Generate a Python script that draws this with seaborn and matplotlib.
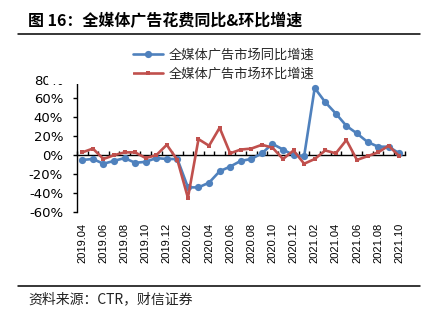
import numpy as np
import pandas as pd
import matplotlib
matplotlib.use("Agg")
import matplotlib.pyplot as plt
import seaborn as sns
from matplotlib.patches import Rectangle
from matplotlib.lines import Line2D

# Monthly all-media advertising spend growth (%)
months = ["2019.04", "2019.05", "2019.06", "2019.07", "2019.08", "2019.09", "2019.10",
          "2019.11", "2019.12", "2020.01", "2020.02", "2020.03", "2020.04", "2020.05",
          "2020.06", "2020.07", "2020.08", "2020.09", "2020.10", "2020.11", "2020.12",
          "2021.01", "2021.02", "2021.03", "2021.04", "2021.05", "2021.06", "2021.07",
          "2021.08", "2021.09", "2021.10"]
yoy = [-5, -4, -9, -6, -3, -8, -7, -3, -4, -4,
       -34, -34, -29, -17, -12, -6, -4, 2, 12, 6,
       0, -1, 71, 56, 44, 31, 23, 14, 9, 9, 2]
mom = [3, 7, -4, 0, 3, 3, -3, 0, 11, -5,
       -45, 17, 10, 29, 2, 6, 7, 11, 8, -4,
       5, -9, -4, 5, 2, 16, -5, -1, 3, 10, -1]
series_names = ["全媒体广告市场同比增速", "全媒体广告市场环比增速"]
y_ticks = [-60, -40, -20, 0, 20, 40, 60, 80]
title_text = "图 16：全媒体广告花费同比&环比增速"
source_text = "资料来源：CTR，财信证券"

BLUE = "#4F81BD"
RED = "#C0504D"

sns.set_theme(style="white")
plt.rcParams["font.family"] = ["DejaVu Sans", "Noto Sans CJK SC"]

W, H = 437, 322
fig = plt.figure(figsize=(W / 100, H / 100), dpi=100)
fig.patch.set_facecolor("white")


def fx(px):
    return px / W


def fy(py):
    return 1 - py / H


ax = fig.add_axes([fx(77), fy(212), fx(404.5) - fx(77), fy(79.5) - fy(212)])

df = pd.DataFrame({"pos": np.arange(len(months)), "month": months,
                   "yoy": yoy, "mom": mom})

sns.lineplot(data=df, x="pos", y="yoy", ax=ax, color=BLUE, linewidth=1.9,
             marker="o", markersize=5.2, markeredgewidth=0, label=series_names[0])
sns.lineplot(data=df, x="pos", y="mom", ax=ax, color=RED, linewidth=1.9,
             marker="s", markersize=3.2, markeredgewidth=0, label=series_names[1])

ymin, ymax = -60, 80
ax.set_xlim(-0.5, len(months) - 0.5)
ax.set_ylim(ymin, ymax)
ax.set_xlabel("")
ax.set_ylabel("")

# category labels every other month, axis line drawn at zero separately
ax.set_xticks(df["pos"][::2])
ax.set_xticklabels(df["month"][::2], rotation=90, fontsize=8,
                   family=["Liberation Sans"])
ax.tick_params(axis="x", length=0, pad=8, colors="black")

ax.set_yticks(y_ticks)
ax.set_yticklabels([f"{v}%" for v in y_ticks], fontsize=9.5)
ax.tick_params(axis="y", left=True, direction="out", length=3, width=1,
               pad=7, colors="black")

for side in ["top", "right", "bottom"]:
    ax.spines[side].set_visible(False)
ax.spines["left"].set_color("black")
ax.spines["left"].set_linewidth(1)

# zero line with month tick marks between categories
zero_frac = (0 - ymin) / (ymax - ymin)
sec = ax.secondary_xaxis(zero_frac)
sec.set_xticks(np.arange(len(months) + 1) - 0.5)
sec.set_xticklabels([])
sec.tick_params(axis="x", direction="in", length=3, width=1, color="black")
for sp in sec.spines.values():
    sp.set_color("black")
    sp.set_linewidth(1)

leg = ax.legend(loc="upper left", bbox_to_anchor=(fx(133), fy(49)),
                bbox_transform=fig.transFigure, frameon=False,
                handlelength=2.3, handletextpad=0.4, borderpad=0,
                borderaxespad=0, labelspacing=0.4,
                prop={"family": ["Noto Sans CJK SC"], "size": 9.5})

fig.patches.append(Rectangle((fx(48), fy(84)), fx(133) - fx(48), fy(60) - fy(84),
                             transform=fig.transFigure, facecolor="white",
                             edgecolor="none", zorder=5))

fig.text(fx(28), fy(21), title_text, fontsize=11.5, fontweight="bold",
         family=["Noto Sans CJK SC"], va="center", ha="left", color="black")
fig.add_artist(Line2D([fx(18), fx(420)], [fy(34), fy(34)], color="black", lw=1.1))
fig.add_artist(Line2D([fx(18), fx(420)], [fy(286), fy(286)], color="black", lw=1.1))
fig.text(fx(28), fy(299.5), source_text, fontsize=10,
         family=["Noto Sans CJK SC"], va="center", ha="left", color="#222222")

fig.savefig("out.png", dpi=100)
